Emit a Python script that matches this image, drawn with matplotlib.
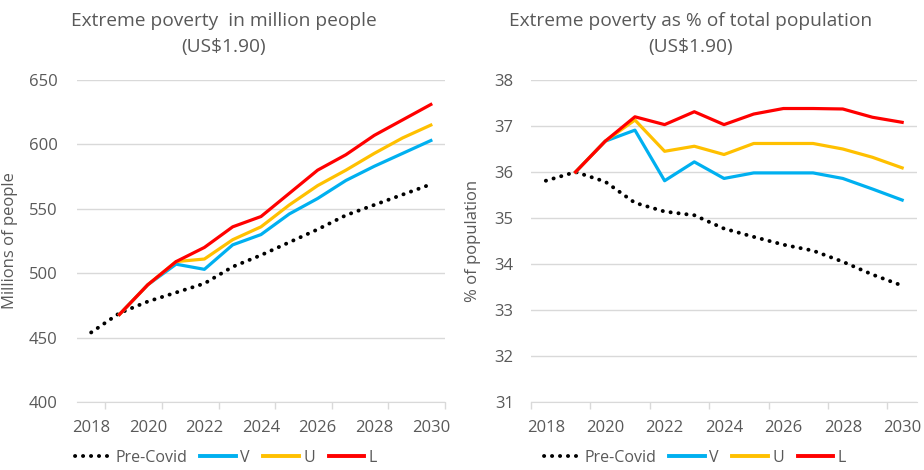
import matplotlib
matplotlib.use("Agg")
import matplotlib.pyplot as plt
from matplotlib.lines import Line2D

plt.rcParams['font.family'] = ['Open Sans', 'DejaVu Sans']

years = list(range(2018, 2031))

# Left chart: millions of people
pre_mil = [454, 469, 478, 485, 492, 505, 514, 524, 534, 545, 553, 561, 569]
v_mil = [None, 468, 491, 507, 503, 522, 530, 546, 558, 572, 583, 593, 603]
u_mil = [None, 468, 491, 509, 511, 526, 536, 553, 568, 580, 593, 605, 615]
l_mil = [None, 468, 491, 509, 520, 536, 544, 562, 580, 592, 607, 619, 631]

# Right chart: % of population
pre_pct = [35.81, 36.0, 35.79, 35.33, 35.14, 35.06, 34.77, 34.59, 34.42, 34.29, 34.05, 33.77, 33.53]
v_pct = [None, 36.0, 36.67, 36.91, 35.81, 36.22, 35.86, 35.98, 35.98, 35.98, 35.86, 35.63, 35.39]
u_pct = [None, 36.0, 36.67, 37.13, 36.45, 36.56, 36.38, 36.62, 36.62, 36.62, 36.5, 36.32, 36.09]
l_pct = [None, 36.0, 36.67, 37.2, 37.03, 37.31, 37.03, 37.26, 37.38, 37.38, 37.37, 37.19, 37.08]

x_labels = ['2018', '2020', '2022', '2024', '2026', '2028', '2030']
series_names = ['Pre-Covid', 'V', 'U', 'L']
colors = ['black', '#00B0F0', '#FFC000', '#FF0000']
GRAY = '#595959'
GRID = '#D9D9D9'

fig = plt.figure(figsize=(9.24, 4.70), dpi=100)
ax1 = fig.add_axes([77/924, 1-402/470, 368/924, 322/470])
ax2 = fig.add_axes([531/924, 1-402/470, 386/924, 322/470])

DOT = (0, (0.05, 2.0))


def draw(ax, pre, v, u, l, ylim, yticks, ylabel, title, minor_ticks,
         title_x, leg_x, ylab_x, ypad):
    def clean(vals):
        xs = [y for y, val in zip(years, vals) if val is not None]
        ys = [val for val in vals if val is not None]
        return xs, ys
    xs, ys = clean(pre)
    ax.plot(xs, ys, color='black', lw=2.8, linestyle=DOT,
            dash_capstyle='round', zorder=3)
    for vals, c in zip([v, u, l], colors[1:]):
        xs, ys = clean(vals)
        ax.plot(xs, ys, color=c, lw=2.3, zorder=4)
    ax.set_xlim(2017.5, 2030.5)
    ax.set_ylim(*ylim)
    ax.set_yticks(yticks)
    ax.set_yticklabels([str(t) for t in yticks])
    ax.set_xticks([int(s) for s in x_labels])
    ax.set_xticklabels(x_labels)
    ax.set_xticks(minor_ticks, minor=True)
    ax.tick_params(axis='x', which='major', length=0, pad=13, labelsize=12, labelcolor=GRAY)
    ax.tick_params(axis='x', which='minor', length=5, color=GRID, width=1)
    ax.tick_params(axis='y', length=0, pad=ypad, labelsize=12, labelcolor=GRAY)
    ax.grid(axis='y', color=GRID, lw=1)
    ax.set_axisbelow(True)
    for s in ['top', 'right', 'left']:
        ax.spines[s].set_visible(False)
    ax.spines['bottom'].set_color(GRID)
    ax.set_ylabel(ylabel, color=GRAY, fontsize=12)
    ax.yaxis.set_label_coords(ylab_x, 0.5)
    fig.text(title_x / 924, 1 - 34 / 470, title, color=GRAY, fontsize=13.8,
             ha='center', va='center', linespacing=1.55)
    handles = [Line2D([0], [0], color='black', lw=2.8, linestyle=DOT,
                      dash_capstyle='round')] + \
              [Line2D([0], [0], color=c, lw=2.8) for c in colors[1:]]
    fig.legend(handles, series_names, loc='center', bbox_to_anchor=(leg_x / 924, 1 - 458 / 470),
               ncol=4, frameon=False, fontsize=11.5, labelcolor=GRAY,
               handlelength=2.2, handletextpad=0.3, columnspacing=0.85,
               borderpad=0, borderaxespad=0)


draw(ax1, pre_mil, v_mil, u_mil, l_mil, (400, 650), [400, 450, 500, 550, 600, 650],
     'Millions of people', 'Extreme poverty  in million people\n(US$1.90)',
     [2018.5, 2020.5, 2022.5, 2024.5, 2026.5, 2028.5, 2030.5], 224, 226, -0.160, 14)
draw(ax2, pre_pct, v_pct, u_pct, l_pct, (31, 38), [31, 32, 33, 34, 35, 36, 37, 38],
     '% of population', 'Extreme poverty as % of total population\n(US$1.90)',
     [2017.5, 2019.5, 2021.5, 2023.5, 2025.5, 2027.5, 2029.5], 691, 695, -0.1295, 12.5)

fig.savefig('out.png', dpi=100)
